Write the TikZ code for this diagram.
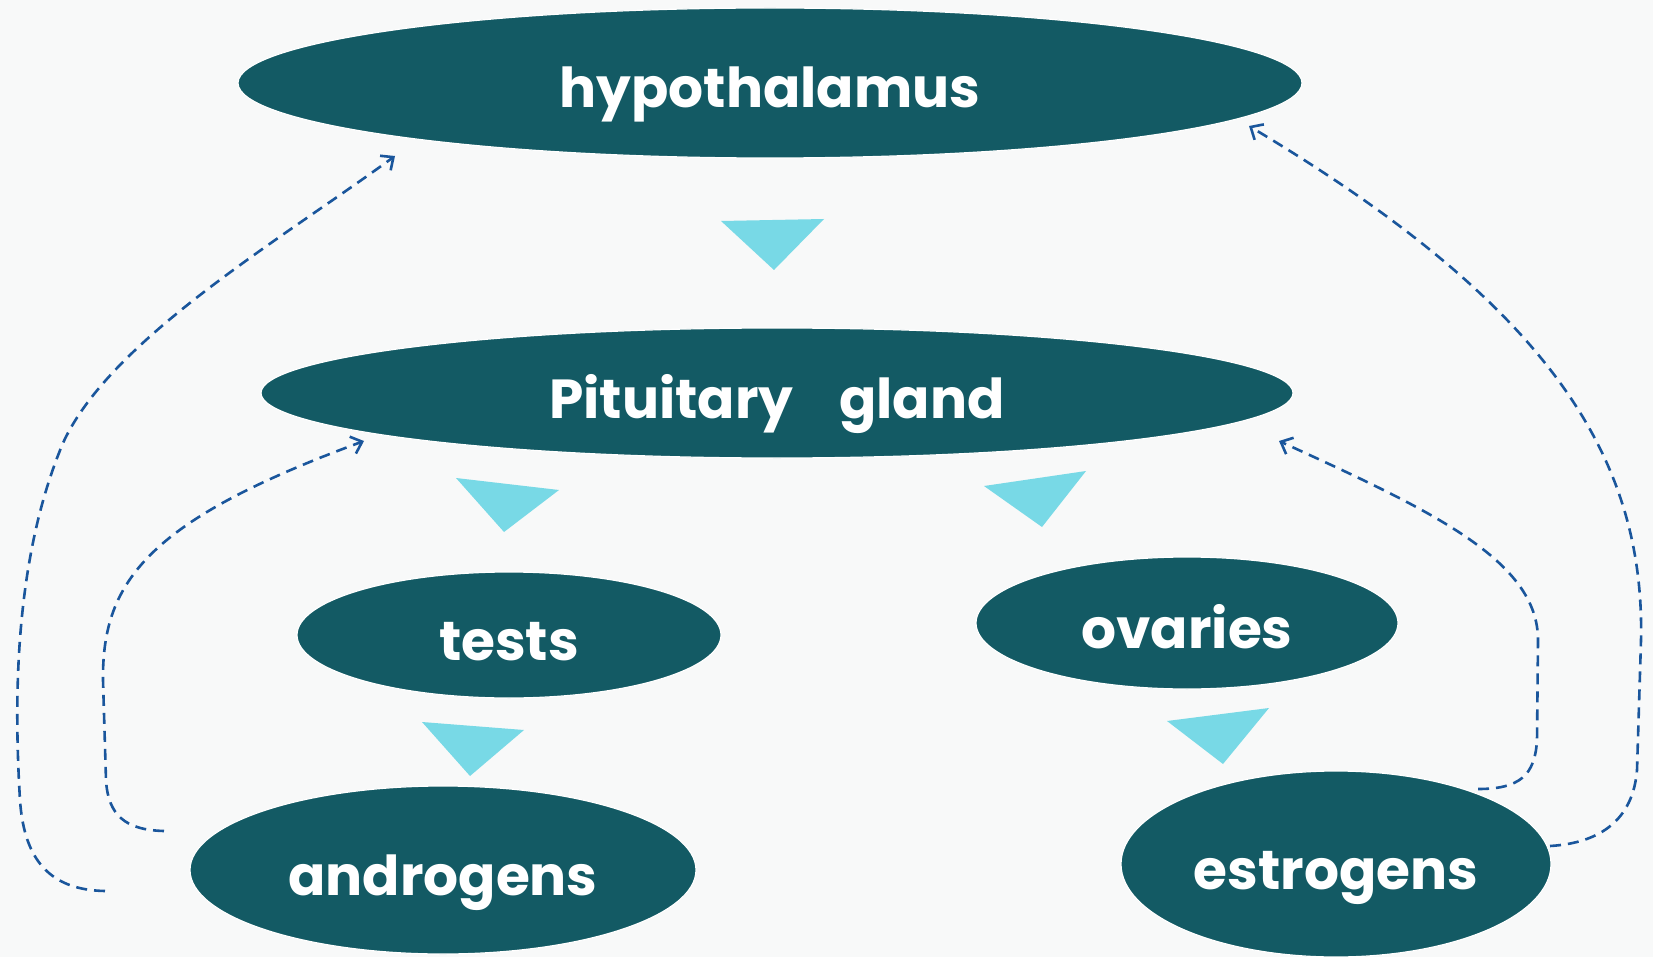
\documentclass[tikz,border=0pt]{standalone}
\usepackage{fontspec}
\newfontfamily\lab{Poppins}
\usetikzlibrary{arrows.meta,shapes.geometric}
\definecolor{bgcol}{HTML}{F8F9F9}
\definecolor{organteal}{HTML}{135A64}
\definecolor{tricol}{HTML}{78D9E6}
\definecolor{fbblue}{HTML}{1A569C}
\begin{document}
\begin{tikzpicture}[x=1pt,y=-1pt,
  organ/.style={ellipse, fill=organteal, draw=white, line width=1.2pt, inner sep=0pt,
    text=white, text height=50pt, text depth=0pt,
    font=\lab\bfseries\fontsize{55}{55}\selectfont},
  fb/.style={draw=fbblue, line width=2.6pt, dash pattern=on 11pt off 7pt,
    -{Straight Barb[length=10pt,width=18pt]}},
  tri/.style={fill=tricol}]
\fill[bgcol] (0,0) rectangle (1653,957);
\useasboundingbox (0,0) rectangle (1653,957);

\node[organ, minimum width=1064pt, minimum height=150pt] (hyp) at (770,83) {hypothalamus};
\node[organ, minimum width=1032pt, minimum height=130pt] (pit) at (777,393) {Pituitary\hspace{46pt}gland};
\node[organ, minimum width=424pt, minimum height=126pt] (tes) at (509,635) {tests};
\node[organ, minimum width=422pt, minimum height=132pt] (ova) at (1187,623) {ovaries};
\node[organ, minimum width=506pt, minimum height=168pt] (and) at (443,870) {androgens};
\node[organ, minimum width=430pt, minimum height=186pt] (est) at (1336,864) {estrogens};

% triangles
\fill[tri] (721,221) -- (824,219) -- (774,270) -- cycle;
\fill[tri] (456,478) -- (559,490) -- (504,532) -- cycle;
\fill[tri] (984,486) -- (1086,471) -- (1042,527) -- cycle;
\fill[tri] (422,722) -- (524,730) -- (470,776) -- cycle;
\fill[tri] (1167,721) -- (1269,708) -- (1223,764) -- cycle;

% feedback coordinates
\coordinate (andA) at (105,891);
\coordinate (andB) at (164,831);
\coordinate (estC) at (1478,789);
\coordinate (estD) at (1550,846);
\coordinate (hypL) at (395,156);
\coordinate (hypR) at (1249,126);
\coordinate (pitL) at (364,441);
\coordinate (pitR) at (1279,441);

\draw[fb] (andA) .. controls (50,890) and (24,860) .. (20,800)
  .. controls (14,700) and (14,560) .. (63,443)
  .. controls (110,340) and (280,240) .. (hypL);
\draw[fb] (andB) .. controls (125,830) and (108,815) .. (106,780)
  -- (103,680) .. controls (102,580) and (150,520) .. (pitL);
\draw[fb] (estC) .. controls (1520,789) and (1535,775) .. (1537,740)
  -- (1538,640) .. controls (1538,560) and (1430,510) .. (pitR);
\draw[fb] (estD) .. controls (1600,843) and (1633,820) .. (1637,770)
  -- (1641,640) .. controls (1645,450) and (1540,300) .. (hypR);
\end{tikzpicture}
\end{document}
